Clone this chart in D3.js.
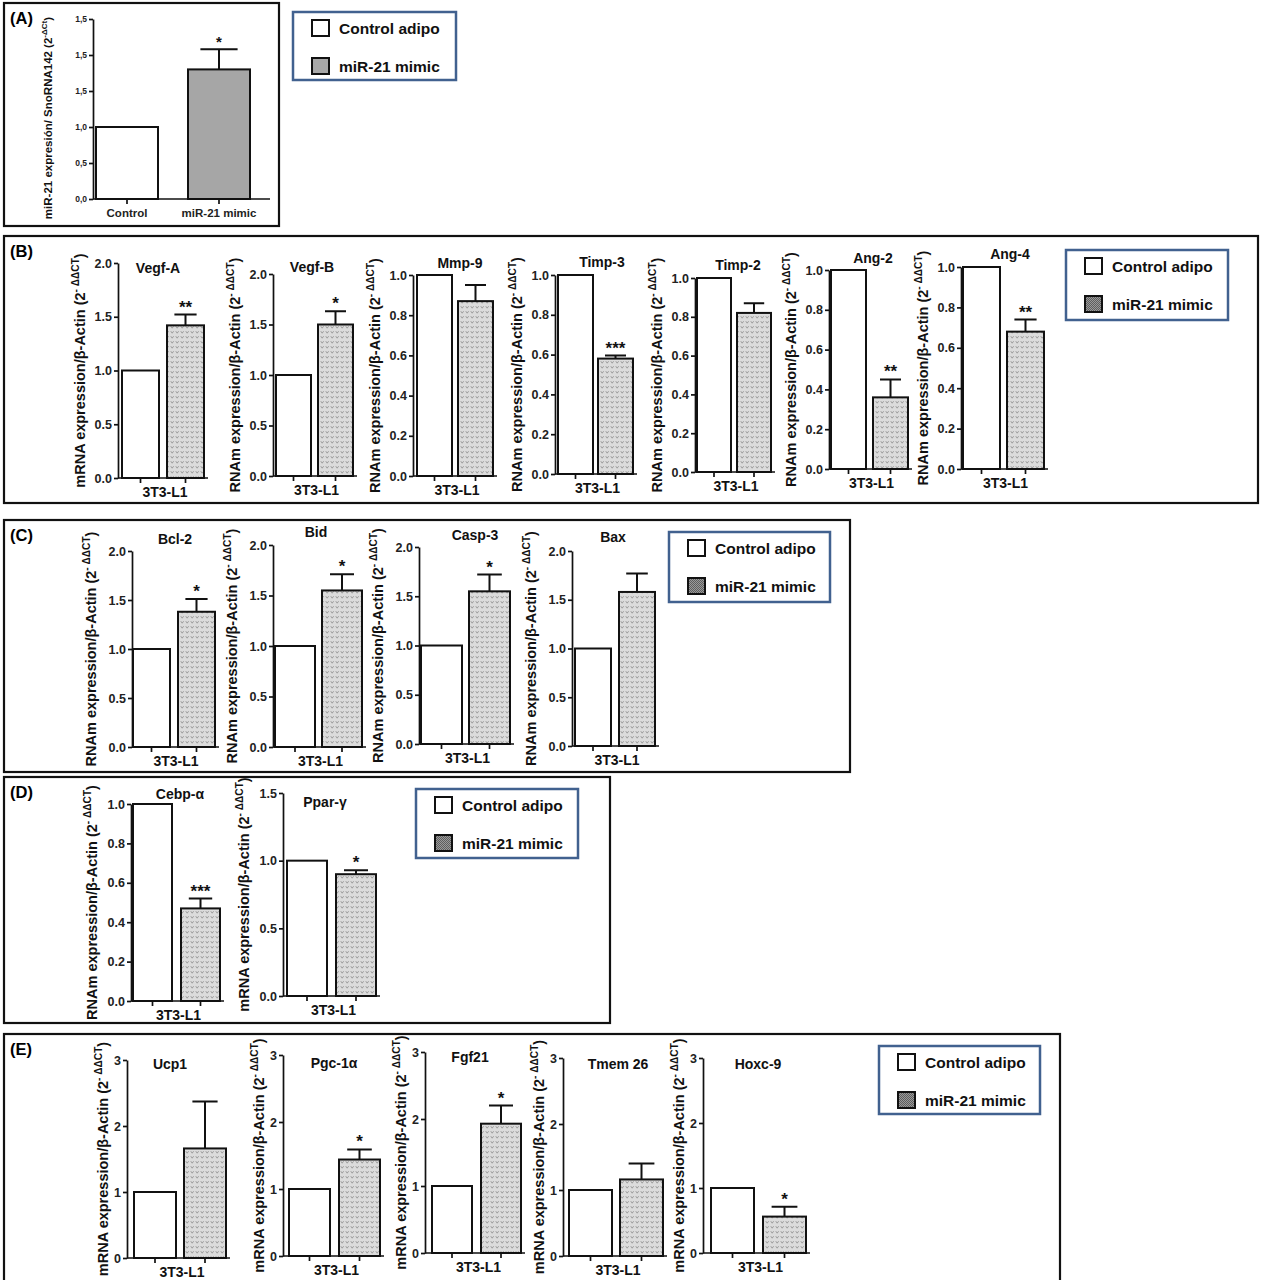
<!DOCTYPE html>
<html>
<head>
<meta charset="utf-8">
<script src="https://cdn.jsdelivr.net/npm/d3@7"></script>
<style>
  body { margin: 0; background: #fff; }
  text { font-family: "Liberation Sans", Arial, sans-serif; font-weight: bold; }
</style>
</head>
<body>
<div id="container"></div>
<script>
/* groups (same two in every chart) */
const groups = ["Control adipo", "miR-21 mimic"]

/* (A) miR-21 expression */
const catsA = ["Control", "miR-21 mimic"]
const valuesA = [1.0, 1.80]
const errA = [0, 0.28]
const sigA = "*"
const ticksA = [0, 0.5, 1, 1.5, 2, 2.5]
const tickLabelsA = ["0,0", "0,5", "1,0", "1,5", "1,5", "1,5"]

/* (B) angiogenesis genes */
const genesB = ["Vegf-A", "Vegf-B", "Mmp-9", "Timp-3", "Timp-2", "Ang-2", "Ang-4"]
const mimicB = [1.42, 1.50, 0.87, 0.58, 0.82, 0.36, 0.68]
const errB = [0.10, 0.13, 0.08, 0.015, 0.05, 0.09, 0.06]
const sigB = ["**", "*", "", "***", "", "**", "**"]
const yMaxB = [2, 2, 1, 1, 1, 1, 1]
const stepB = [0.5, 0.5, 0.2, 0.2, 0.2, 0.2, 0.2]
const yLabB = ["mRNA", "RNAm", "RNAm", "RNAm", "RNAm", "RNAm", "RNAm"]

/* (C) apoptosis genes */
const genesC = ["Bcl-2", "Bid", "Casp-3", "Bax"]
const mimicC = [1.38, 1.55, 1.55, 1.58]
const errC = [0.13, 0.16, 0.17, 0.19]
const sigC = ["*", "*", "*", ""]
const yMaxC = [2, 2, 2, 2]
const stepC = [0.5, 0.5, 0.5, 0.5]
const yLabC = ["RNAm", "RNAm", "RNAm", "RNAm"]

/* (D) adipogenesis genes */
const genesD = ["Cebp-α", "Ppar-γ"]
const mimicD = [0.47, 0.90]
const errD = [0.05, 0.03]
const sigD = ["***", "*"]
const yMaxD = [1, 1.5]
const stepD = [0.2, 0.5]
const yLabD = ["RNAm", "mRNA"]

/* (E) browning genes */
const genesE = ["Ucp1", "Pgc-1α", "Fgf21", "Tmem 26", "Hoxc-9"]
const mimicE = [1.66, 1.44, 1.93, 1.16, 0.56]
const errE = [0.71, 0.15, 0.27, 0.24, 0.15]
const sigE = ["", "*", "*", "", "*"]
const yMaxE = [3, 3, 3, 3, 3]
const stepE = [1, 1, 1, 1, 1]
const yLabE = ["mRNA", "mRNA", "mRNA", "mRNA", "mRNA"]

/* ---------- layout (pixels) ---------- */
const W = 1266, H = 1280

const frames = [
  { id: "(A)", x: 4, y: 3, w: 275, h: 223 },
  { id: "(B)", x: 4, y: 236, w: 1254, h: 267 },
  { id: "(C)", x: 4, y: 520, w: 846, h: 252 },
  { id: "(D)", x: 4, y: 777, w: 606, h: 246 },
  { id: "(E)", x: 4, y: 1034, w: 1056, h: 260 }
]
const legends = [
  { x: 293, y: 12, w: 163, h: 68, dark: false },
  { x: 1066, y: 250, w: 162, h: 70, dark: true },
  { x: 669, y: 532, w: 161, h: 70, dark: true },
  { x: 416, y: 789, w: 162, h: 69, dark: true },
  { x: 879, y: 1046, w: 161, h: 68, dark: true }
]

// ax = y axis x, top/bot = pixel of max / 0, off/bw/gap = bar band, tx/ty = gene title
const layB = [
  { ax: 118, top: 263, bot: 478, off: 4, bw: 37, gap: 8, tx: 158, ty: 273 },
  { ax: 273, top: 274, bot: 476, off: 3, bw: 35, gap: 7, tx: 312, ty: 272 },
  { ax: 413, top: 275, bot: 476, off: 4, bw: 35, gap: 6, tx: 460, ty: 268 },
  { ax: 555, top: 275, bot: 474, off: 3, bw: 35, gap: 5, tx: 602, ty: 267 },
  { ax: 695, top: 278, bot: 472, off: 2, bw: 34, gap: 6, tx: 738, ty: 270 },
  { ax: 829, top: 270, bot: 469, off: 2, bw: 35, gap: 7, tx: 873, ty: 263 },
  { ax: 961, top: 267, bot: 469, off: 2, bw: 37, gap: 7, tx: 1010, ty: 259 }
]
const layC = [
  { ax: 132, top: 551, bot: 747, off: 1, bw: 37, gap: 8, tx: 175, ty: 544 },
  { ax: 273, top: 545, bot: 747, off: 2, bw: 40, gap: 7, tx: 316, ty: 537 },
  { ax: 419, top: 547, bot: 744, off: 2, bw: 41, gap: 7, tx: 475, ty: 540 },
  { ax: 572, top: 551, bot: 746, off: 3, bw: 36, gap: 8, tx: 613, ty: 542 }
]
const layD = [
  { ax: 131, top: 804, bot: 1001, off: 2, bw: 39, gap: 9, tx: 180, ty: 799 },
  { ax: 283, top: 793, bot: 996, off: 4, bw: 40, gap: 9, tx: 325, ty: 807 }
]
const layE = [
  { ax: 127, top: 1060, bot: 1258, off: 7, bw: 42, gap: 8, tx: 170, ty: 1069 },
  { ax: 283, top: 1055, bot: 1256, off: 6, bw: 41, gap: 9, tx: 334, ty: 1068 },
  { ax: 425, top: 1052, bot: 1253, off: 7, bw: 40, gap: 9, tx: 470, ty: 1062 },
  { ax: 563, top: 1058, bot: 1256, off: 6, bw: 43, gap: 8, tx: 618, ty: 1069 },
  { ax: 703, top: 1058, bot: 1253, off: 8, bw: 43, gap: 9, tx: 758, ty: 1069 }
]
const layA = { ax: 93, top: 19, bot: 199, off: 3, bw: 62, gap: 30, axEnd: 270, yc: 118 }

const svg = d3.select("#container").append("svg")
  .attr("width", W).attr("height", H)

/* patterns */
const defs = svg.append("defs")
const dots = defs.append("pattern").attr("id", "dots")
  .attr("width", 5).attr("height", 5).attr("patternUnits", "userSpaceOnUse")
dots.append("rect").attr("width", 5).attr("height", 5).attr("fill", "#dcdcdc")
dots.append("path").attr("d", "M0.8,1.2 L2.2,3.2 L3.6,1.2")
  .attr("fill", "none").attr("stroke", "#8a8a8a").attr("stroke-width", 0.8)
const dark = defs.append("pattern").attr("id", "dark")
  .attr("width", 2).attr("height", 2).attr("patternUnits", "userSpaceOnUse")
dark.append("rect").attr("width", 2).attr("height", 2).attr("fill", "#5e5e5e")
dark.append("rect").attr("width", 1).attr("height", 1).attr("fill", "#9a9a9a")
dark.append("rect").attr("x", 1).attr("y", 1).attr("width", 1).attr("height", 1).attr("fill", "#9a9a9a")

/* frames */
frames.forEach(f => {
  svg.append("rect").attr("x", f.x).attr("y", f.y).attr("width", f.w).attr("height", f.h)
    .attr("fill", "none").attr("stroke", "#111").attr("stroke-width", 2.2)
  svg.append("text").attr("x", f.x + 6).attr("y", f.y + 21)
    .attr("font-size", 16.5).text(f.id)
})

/* legends */
legends.forEach(l => {
  const g = svg.append("g").attr("transform", `translate(${l.x},${l.y})`)
  g.append("rect").attr("width", l.w).attr("height", l.h)
    .attr("fill", "#fff").attr("stroke", "#41618f").attr("stroke-width", 2.5)
  groups.forEach((k, i) => {
    g.append("rect").attr("x", 19).attr("y", 8 + i * 38).attr("width", 17).attr("height", 16)
      .attr("fill", i === 0 ? "#fff" : (l.dark ? "url(#dark)" : "#a8a8a8"))
      .attr("stroke", "#111").attr("stroke-width", 2)
    g.append("text").attr("x", 46).attr("y", 22 + i * 38)
      .attr("font-size", 15.5).attr("fill", "#111").text(k)
  })
})

function yTitle(g, x, y, main, sup, fs) {
  const t = g.append("text")
    .attr("transform", `translate(${x},${y}) rotate(-90)`)
    .attr("text-anchor", "middle").attr("font-size", fs).attr("fill", "#111")
  t.append("tspan").text(main + " (2")
  t.append("tspan").attr("dy", -fs * 0.4).attr("font-size", fs * 0.7).text(sup)
  t.append("tspan").attr("dy", fs * 0.4).attr("font-size", fs).text(")")
}

function barChart(o) {
  const L = o.L
  const tks = d3.range(0, o.yMax + o.step / 2, o.step)
  const y = d3.scaleLinear([0, o.yMax], [L.bot, L.top])
  const x = d3.scaleBand(groups, [L.ax + L.off, L.ax + L.off + 2 * L.bw + L.gap])
    .paddingInner(L.gap / (L.bw + L.gap)).paddingOuter(0)
  const g = svg.append("g")

  const yax = g.append("g").attr("transform", `translate(${L.ax},0)`)
    .call(d3.axisLeft(y).tickValues(o.ticks || tks)
      .tickFormat(o.tickLabels ? (d, i) => o.tickLabels[i] : d3.format(o.fmt))
      .tickSize(4).tickSizeOuter(0).tickPadding(2))
  yax.attr("font-family", null).attr("font-size", o.tickFs)
  yax.selectAll("path, line").attr("stroke", "#111").attr("stroke-width", 1.7)
  yax.selectAll("text").attr("font-size", o.tickFs).attr("fill", "#222")

  const xEnd = L.axEnd || (x.range()[1] + 4)
  const xax = g.append("g").attr("transform", `translate(0,${L.bot})`)
    .call(d3.axisBottom(x).tickSize(5).tickSizeOuter(0).tickFormat(""))
  xax.select(".domain").remove()
  xax.selectAll("line").attr("stroke", "#111").attr("stroke-width", 1.7)
  g.append("line").attr("x1", L.ax).attr("x2", xEnd).attr("y1", L.bot).attr("y2", L.bot)
    .attr("stroke", "#111").attr("stroke-width", 1.7)

  const rows = groups.map((k, i) => ({ k, v: o.values[i], e: o.errs[i] }))
  const fills = o.fills || ["#fff", "url(#dots)"]

  g.selectAll(".eb").data(rows.filter(d => d.e > 0)).join("path")
    .attr("d", d => {
      const cx = x(d.k) + x.bandwidth() / 2, w = x.bandwidth() * 0.3
      return `M${cx},${y(d.v)}V${y(d.v + d.e)}M${cx - w},${y(d.v + d.e)}H${cx + w}`
    })
    .attr("stroke", "#111").attr("stroke-width", 2).attr("fill", "none")

  g.selectAll(".bar").data(rows).join("rect")
    .attr("x", d => x(d.k)).attr("width", x.bandwidth())
    .attr("y", d => y(d.v)).attr("height", d => y(0) - y(d.v))
    .attr("fill", (d, i) => fills[i]).attr("stroke", "#111").attr("stroke-width", 2)

  if (o.sig) {
    const m = rows[1]
    g.append("text").attr("x", x(m.k) + x.bandwidth() / 2).attr("y", y(m.v + m.e) - 2)
      .attr("text-anchor", "middle").attr("font-size", o.sigFs || 17).attr("fill", "#111").text(o.sig)
  }

  if (o.cats) {
    g.selectAll(".cat").data(o.cats).join("text")
      .attr("x", (d, i) => x(groups[i]) + x.bandwidth() / 2).attr("y", L.bot + 18)
      .attr("text-anchor", "middle").attr("font-size", 11.5).attr("fill", "#222").text(d => d)
  } else {
    const r = x.range()
    g.append("text").attr("x", (r[0] + r[1]) / 2 + 2).attr("y", L.bot + 19)
      .attr("text-anchor", "middle").attr("font-size", 14).attr("fill", "#111").text("3T3-L1")
  }

  if (o.gene) {
    g.append("text").attr("x", L.tx).attr("y", L.ty)
      .attr("text-anchor", "middle").attr("font-size", 14).attr("fill", "#111").text(o.gene)
  }

  yTitle(g, L.ax - o.yOff, L.yc || (L.top + L.bot) / 2, o.ylab, o.sup, o.yFs || 14.5)
}

/* (A) */
barChart({
  L: layA, values: valuesA, errs: errA, sig: sigA, sigFs: 15, yMax: 2.5, step: 0.5,
  ticks: ticksA, tickLabels: tickLabelsA, tickFs: 8.5, cats: catsA,
  fills: ["#fff", "#a6a6a6"], ylab: "miR-21 expresión/ SnoRNA142", sup: "-ΔCt", yOff: 41, yFs: 11.5
})

function panel(genes, mimic, err, sig, yMax, step, yLab, lay, yOff, fmt) {
  genes.forEach((gene, i) => {
    barChart({
      L: lay[i], gene, values: [1, mimic[i]], errs: [0, err[i]], sig: sig[i],
      yMax: yMax[i], step: step[i], fmt: fmt, tickFs: 12.5,
      ylab: yLab[i] + " expression/β-Actin", sup: "- ΔΔCT", yOff
    })
  })
}

panel(genesB, mimicB, errB, sigB, yMaxB, stepB, yLabB, layB, 33, ".1f")
panel(genesC, mimicC, errC, sigC, yMaxC, stepC, yLabC, layC, 36, ".1f")
panel(genesD, mimicD, errD, sigD, yMaxD, stepD, yLabD, layD, 34, ".1f")
panel(genesE, mimicE, errE, sigE, yMaxE, stepE, yLabE, layE, 19, "d")
</script>
</body>
</html>
